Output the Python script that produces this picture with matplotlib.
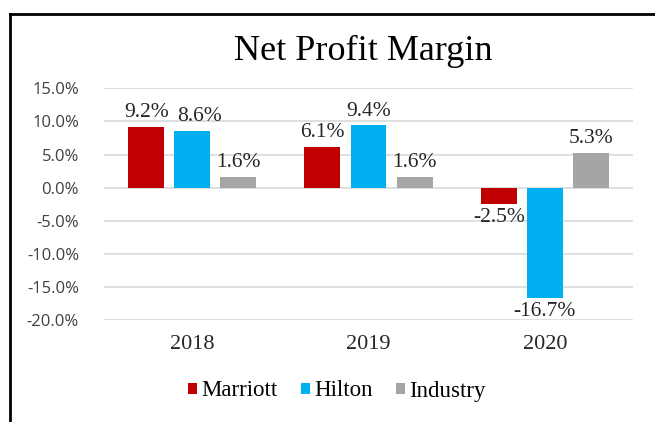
import numpy as np
import matplotlib.pyplot as plt
from matplotlib.lines import Line2D
from matplotlib.ticker import FuncFormatter

years = ["2018", "2019", "2020"]
series = ["Marriott", "Hilton", "Industry"]
marriott = [9.2, 6.1, -2.5]
hilton = [8.6, 9.4, -16.7]
industry = [1.6, 1.6, 5.3]
colors = ["#C00000", "#00B0F0", "#A5A5A5"]

serif = ["Liberation Serif", "DejaVu Serif"]
sans = ["Open Sans", "DejaVu Sans"]

fig = plt.figure(figsize=(6.55, 4.22), dpi=100)
ax = fig.add_axes([104/655, 102/422, 529/655, 231.7/422])

x = np.arange(len(years))
w = 0.204
step = 0.261
for i, (name, vals) in enumerate(zip(series, [marriott, hilton, industry])):
    pos = x + (i - 1) * step
    bars = ax.bar(pos, vals, width=w, color=colors[i], label=name, zorder=3)
    for j, (b, v) in enumerate(zip(bars, vals)):
        off = 3.5 if v >= 0 else -2.5
        # the 2018 Hilton label sits a little right so it clears the Marriott one
        dx = 5 if (i == 1 and j == 0) else 0
        ax.annotate(f"{v:.1f}%", (b.get_x() + b.get_width()/2, v),
                    xytext=(dx, off), textcoords="offset points",
                    ha="center", va="bottom" if v >= 0 else "top",
                    fontsize=15.5, family=serif, color="#262626")

ax.set_xlim(-0.5, 2.5)
ax.set_ylim(-20, 15)
ax.set_yticks(np.arange(-20, 15.1, 5))
ax.yaxis.set_major_formatter(FuncFormatter(lambda v, p: f"{v:.1f}%"))
ax.set_xticks(x)
ax.set_xticklabels(years, fontsize=16, family=serif, color="#262626")
for lab in ax.get_yticklabels():
    lab.set_family(sans)
    lab.set_fontsize(12)
    lab.set_color("#404040")
ax.tick_params(axis="y", length=0, pad=18)
ax.tick_params(axis="x", length=0, pad=11)
ax.grid(axis="y", color="#D9D9D9", linewidth=1.2, zorder=0)
for s in ax.spines.values():
    s.set_visible(False)

fig.text(363/655, 1 - 51/422, "Net Profit Margin", ha="center", va="center",
         fontsize=26, family=serif, color="#000000")

leg = fig.legend(loc="center", bbox_to_anchor=(337/655, 1 - 391/422), ncol=3,
                 frameon=False, prop={"family": serif, "size": 16.5},
                 handlelength=0.4, handleheight=0.4, handletextpad=0.2,
                 columnspacing=1.0)

# outer border of the chart box
fig.add_artist(Line2D([9.5/655, 9.5/655], [0, 1 - 14/422], color="black", lw=2,
                      transform=fig.transFigure))
fig.add_artist(Line2D([9.5/655, 1], [1 - 14/422, 1 - 14/422], color="black", lw=2,
                      transform=fig.transFigure))

fig.savefig("out.png", dpi=100)
